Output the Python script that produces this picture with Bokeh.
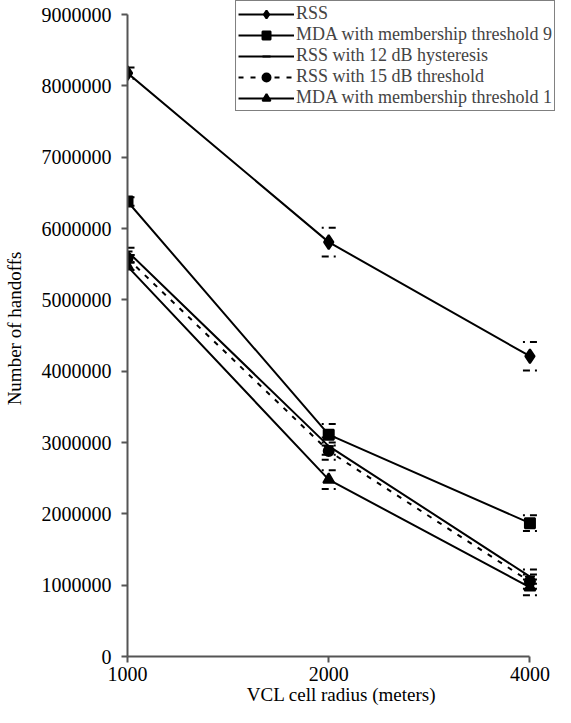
from bokeh.plotting import figure
from bokeh.models import (ColumnDataSource, Range1d, FixedTicker, Whisker, TeeHead,
                          Legend, LegendItem, BasicTickFormatter)
from bokeh.embed import file_html
from bokeh.resources import INLINE

categories = ["1000", "2000", "4000"]
rss = [8180000, 5810000, 4210000]
rss_err = [80000, 200000, 200000]
mda9 = [6380000, 3110000, 1870000]
mda9_err = [60000, 150000, 110000]
rss12 = [5680000, 2950000, 1120000]
rss12_err = [50000, 120000, 100000]
rss15 = [5580000, 2880000, 1050000]
rss15_err = [50000, 120000, 100000]
mda1 = [5470000, 2480000, 970000]
mda1_err = [50000, 130000, 110000]
y_ticks = [0, 1000000, 2000000, 3000000, 4000000, 5000000, 6000000, 7000000, 8000000, 9000000]

FONT = "Liberation Serif"
xi = list(range(len(categories)))

p = figure(width=555, height=707, output_backend="svg", toolbar_location=None,
           x_range=Range1d(0, 2.127), y_range=Range1d(0, 9198000),
           min_border_left=119, min_border_top=0, min_border_right=0, min_border_bottom=40)
p.grid.visible = False
p.outline_line_color = None
p.background_fill_color = "white"

series = [
    ("RSS", rss, rss_err, "diamond", 14, None),
    ("MDA with membership threshold 9", mda9, mda9_err, "square", 10, None),
    ("RSS with 12 dB hysteresis", rss12, rss12_err, "dash", 10, None),
    ("RSS with 15 dB threshold", rss15, rss15_err, "circle", 10, "5 7"),
    ("MDA with membership threshold 1", mda1, mda1_err, "triangle", 11, None),
]

items = []
for name, vals, errs, marker, size, dash in series:
    src = ColumnDataSource(dict(x=xi, y=vals,
                                lo=[v - e for v, e in zip(vals, errs)],
                                hi=[v + e for v, e in zip(vals, errs)]))
    kw = {}
    if dash:
        kw["line_dash"] = dash
    ln = p.line("x", "y", source=src, line_color="black", line_width=2, **kw)
    mk = p.scatter("x", "y", source=src, marker=marker, size=size,
                   fill_color="black", line_color="black", line_width=2)
    w = Whisker(source=src, base="x", upper="hi", lower="lo", dimension="height",
                line_alpha=0,
                upper_head=TeeHead(size=14, line_width=2, line_dash="7 5", line_color="black"),
                lower_head=TeeHead(size=14, line_width=2, line_dash="7 5", line_color="black"))
    p.add_layout(w)
    items.append(LegendItem(label=name, renderers=[ln, mk]))

legend = Legend(items=items, location="top_right", margin=0,
                border_line_color="black", border_line_width=1,
                background_fill_color="white", background_fill_alpha=1,
                label_text_font=FONT, label_text_font_size="18px",
                label_height=20, glyph_height=20, glyph_width=56,
                label_standoff=2, padding=2, spacing=0)
p.add_layout(legend, "center")

p.xaxis.ticker = FixedTicker(ticks=xi)
p.xaxis.major_label_overrides = {i: c for i, c in enumerate(categories)}
p.xaxis.bounds = (0, 2)
p.yaxis.bounds = (0, 9000000)
p.xaxis.minor_tick_line_color = None
p.yaxis.minor_tick_line_color = None
p.yaxis.ticker = FixedTicker(ticks=y_ticks)
p.yaxis.formatter = BasicTickFormatter(use_scientific=False)
p.xaxis.axis_label = "VCL cell radius (meters)"
p.yaxis.axis_label = "Number of handoffs"
for ax in (p.xaxis[0], p.yaxis[0]):
    ax.axis_line_color = "#555555"
    ax.axis_line_width = 2
    ax.major_tick_line_color = "#555555"
    ax.major_tick_line_width = 2
    ax.major_tick_out = 6
    ax.major_tick_in = 0
    ax.major_label_text_font = FONT
    ax.major_label_text_font_size = "20px"
    ax.major_label_text_color = "black"
    ax.axis_label_text_font = FONT
    ax.axis_label_text_font_size = "19px"
    ax.axis_label_text_font_style = "normal"
    ax.axis_label_text_color = "black"
    ax.axis_label_text_line_height = 0.9
    ax.major_label_text_line_height = 0.9
p.xaxis.major_label_standoff = 4
p.xaxis.axis_label_standoff = 0
p.yaxis.major_label_standoff = 10
p.yaxis.axis_label_standoff = 14

open("out.html", "w").write(file_html(p, INLINE))
